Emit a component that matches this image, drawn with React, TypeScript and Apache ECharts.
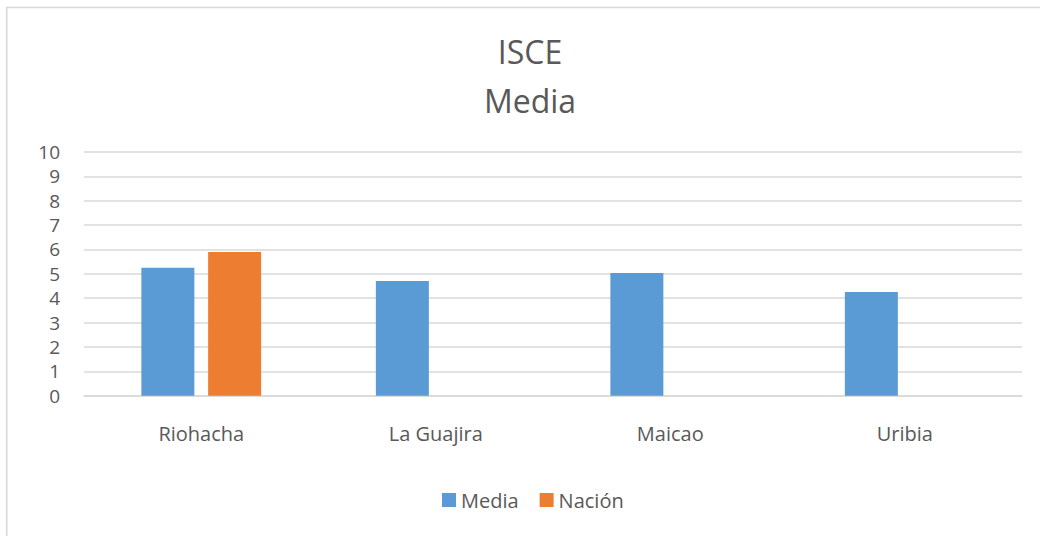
import React, { useEffect, useRef } from "react";
import * as echarts from "echarts";

const categories = ["Riohacha", "La Guajira", "Maicao", "Uribia"];
const mediaValues = [5.25, 4.71, 5.04, 4.26];
const nacionValues: (number | null)[] = [5.9, null, null, null];
const seriesNames = ["Media", "Nación"];
const titleLines = ["ISCE", "Media"];

const FONT = "'Open Sans', 'Noto Sans', sans-serif";
const TEXT = "#595959";

export default function App() {
  const ref = useRef<HTMLDivElement>(null);
  useEffect(() => {
    if (!ref.current) return;
    const chart = echarts.init(ref.current, undefined, { renderer: "svg" });
    chart.setOption({
      animation: false,
      backgroundColor: "#ffffff",
      graphic: [
        {
          type: "rect",
          shape: { x: 6.7, y: 7.5, width: 1200, height: 700 },
          style: { fill: "none", stroke: "#d9d9d9", lineWidth: 1.6 },
          silent: true,
        },
        {
          type: "text",
          x: 530,
          y: 51,
          style: {
            text: titleLines[0],
            align: "center",
            verticalAlign: "middle",
            fontSize: 32,
            fontFamily: FONT,
            fill: TEXT,
          },
        },
        {
          type: "text",
          x: 530,
          y: 100.5,
          style: {
            text: titleLines[1],
            align: "center",
            verticalAlign: "middle",
            fontSize: 32,
            fontFamily: FONT,
            fill: TEXT,
          },
        },
      ],
      legend: {
        data: seriesNames,
        left: 437,
        top: 485,
        itemWidth: 14,
        itemHeight: 14,
        itemGap: 21,
        icon: "rect",
        textStyle: { fontSize: 20, fontFamily: FONT, color: TEXT },
      },
      grid: { left: 84, right: 18, top: 152, bottom: 140.3, containLabel: false },
      xAxis: {
        type: "category",
        data: categories,
        axisLine: { show: true, lineStyle: { color: "#d9d9d9", width: 1.6 } },
        axisTick: { show: false },
        axisLabel: { fontSize: 20, fontFamily: FONT, color: TEXT, margin: 28 },
      },
      yAxis: {
        type: "value",
        min: 0,
        max: 10,
        interval: 1,
        axisLine: { show: false },
        axisTick: { show: false },
        axisLabel: {
          fontSize: 19,
          lineHeight: 19,
          fontFamily: FONT,
          color: TEXT,
          margin: 24,
        },
        splitLine: { lineStyle: { color: "#d9d9d9", width: 1.6 } },
      },
      series: [
        {
          name: seriesNames[0],
          type: "bar",
          data: mediaValues,
          barWidth: 53,
          barGap: "26%",
          itemStyle: { color: "#5B9BD5" },
        },
        {
          name: seriesNames[1],
          type: "bar",
          data: nacionValues,
          barWidth: 53,
          barGap: "26%",
          itemStyle: { color: "#ED7D31" },
        },
      ],
    });
    return () => chart.dispose();
  }, []);
  return (
    <div
      ref={ref}
      style={{ position: "fixed", left: 0, top: 0, width: 1040, height: 536 }}
    />
  );
}
